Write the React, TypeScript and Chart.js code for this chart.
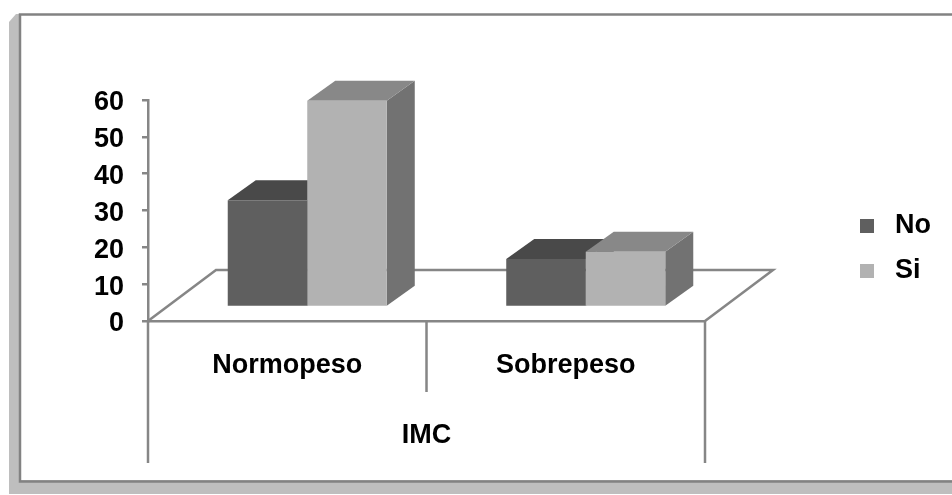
import React, { useEffect, useRef } from "react";
import { Chart, registerables } from "chart.js";

Chart.register(...registerables);

const categories = ["Normopeso", "Sobrepeso"];
const seriesNo = [29, 13];
const seriesSi = [56, 15];
const axisTitle = "IMC";

const FONT = "'Liberation Sans', Arial, sans-serif";
const LINE = "#868686";
const LW = 2.5;
const DX = 68, DY = 51; // floor depth
const BDX = 28, BDY = 20; // bar depth
const SHIFT_X = (DX - BDX) / 2, SHIFT_Y = 14;
const faces = [
  { front: "#5f5f5f", top: "#494949", side: "#494949" },
  { front: "#b2b2b2", top: "#888888", side: "#727272" },
];

function poly(ctx: CanvasRenderingContext2D, pts: number[][], fill: string) {
  ctx.beginPath();
  pts.forEach((p, i) => (i ? ctx.lineTo(p[0], p[1]) : ctx.moveTo(p[0], p[1])));
  ctx.closePath();
  ctx.fillStyle = fill;
  ctx.fill();
}

function swatch(color: string) {
  const c = document.createElement("canvas");
  c.width = 14;
  c.height = 14;
  const g = c.getContext("2d")!;
  g.fillStyle = color;
  g.fillRect(0, 0, 14, 14);
  return c;
}

const frame3d = {
  id: "frame3d",
  afterLayout(chart: any) {
    const l = chart.legend;
    const w = l.right - l.left;
    l.left = 860 + 7 - 14.5 - 18;
    l.right = l.left + w;
    l.top -= 49;
    l.bottom -= 49;
  },
  beforeDraw(chart: any) {
    const ctx: CanvasRenderingContext2D = chart.ctx;
    ctx.save();
    ctx.fillStyle = "#ffffff";
    ctx.fillRect(0, 0, 952, 495);
    // shadow
    ctx.fillStyle = "#bebebe";
    ctx.beginPath();
    ctx.moveTo(19, 14);
    ctx.lineTo(16, 14);
    ctx.lineTo(9, 22);
    ctx.lineTo(9, 494);
    ctx.lineTo(952, 494);
    ctx.lineTo(952, 480);
    ctx.lineTo(19, 480);
    ctx.closePath();
    ctx.fill();
    // frame
    ctx.strokeStyle = "#828282";
    ctx.lineWidth = 2.5;
    ctx.beginPath();
    ctx.moveTo(953, 14.5);
    ctx.lineTo(20, 14.5);
    ctx.lineTo(20, 481.5);
    ctx.lineTo(953, 481.5);
    ctx.stroke();
    ctx.restore();
  },
  beforeDatasetsDraw(chart: any) {
    const ctx: CanvasRenderingContext2D = chart.ctx;
    const { left, right, bottom } = chart.chartArea;
    ctx.save();
    ctx.strokeStyle = LINE;
    ctx.lineWidth = LW;
    // floor
    ctx.beginPath();
    ctx.moveTo(left, bottom);
    ctx.lineTo(left + DX, bottom - DY);
    ctx.lineTo(right + DX, bottom - DY);
    ctx.lineTo(right, bottom);
    ctx.stroke();
    // category separators
    const scaleBottom = 463;
    const mid = (left + right) / 2;
    ctx.beginPath();
    ctx.moveTo(left, bottom);
    ctx.lineTo(left, scaleBottom);
    ctx.moveTo(right, bottom);
    ctx.lineTo(right, scaleBottom);
    ctx.moveTo(mid, bottom);
    ctx.lineTo(mid, 392);
    ctx.stroke();
    // bar faces, then the library's fronts over them
    ctx.translate(SHIFT_X, -SHIFT_Y);
    chart.data.datasets.forEach((_: any, i: number) => {
      chart.getDatasetMeta(i).data.forEach((b: any) => {
        const x0 = b.x - b.width / 2;
        const x1 = b.x + b.width / 2;
        poly(ctx, [[x1, b.y], [x1 + BDX, b.y - BDY], [x1 + BDX, b.base - BDY], [x1, b.base]], faces[i].side);
        poly(ctx, [[x0, b.y], [x0 + BDX, b.y - BDY], [x1 + BDX, b.y - BDY], [x1, b.y]], faces[i].top);
      });
    });
  },
  afterDatasetsDraw(chart: any) {
    chart.ctx.restore();
  },
};

export default function App() {
  const ref = useRef<HTMLCanvasElement>(null);
  useEffect(() => {
    const chart = new Chart(ref.current!, {
      type: "bar",
      data: {
        labels: categories,
        datasets: [
          { label: "No", data: seriesNo, backgroundColor: faces[0].front, borderWidth: 0, categoryPercentage: 0.571, barPercentage: 1 },
          { label: "Si", data: seriesSi, backgroundColor: faces[1].front, borderWidth: 0, categoryPercentage: 0.571, barPercentage: 1 },
        ],
      },
      plugins: [frame3d],
      options: {
        animation: false,
        responsive: false,
        events: [],
        layout: { padding: { left: 0, top: 100, right: 140.5, bottom: 0 } },
        plugins: {
          tooltip: { enabled: false },
          title: { display: false },
          legend: {
            display: true,
            position: "right",
            labels: {
              usePointStyle: true,
              pointStyleWidth: 29,
              padding: 18,
              color: "#000000",
              font: { family: FONT, size: 27, weight: "bold" },
              generateLabels: (chart: any) =>
                chart.data.datasets.map((d: any, i: number) => ({
                  text: d.label,
                  fillStyle: d.backgroundColor,
                  strokeStyle: d.backgroundColor,
                  lineWidth: 0,
                  pointStyle: swatch(d.backgroundColor),
                  datasetIndex: i,
                  hidden: false,
                })),
            },
          },
        },
        scales: {
          x: {
            afterFit: (s: any) => { s.height = 174; },
            grid: { display: false, drawTicks: false },
            border: { display: true, color: LINE, width: LW },
            ticks: { color: "#000000", padding: 28, maxRotation: 0, font: { family: FONT, size: 27, weight: "bold" } },
            title: {
              display: true,
              text: axisTitle,
              color: "#000000",
              padding: { top: 0, bottom: 43 },
              font: { family: FONT, size: 27, weight: "bold" },
            },
          },
          y: {
            min: 0,
            max: 60,
            afterFit: (s: any) => { s.width = 148; },
            grid: { drawOnChartArea: false, drawTicks: true, tickLength: 6, color: LINE, lineWidth: LW },
            border: { display: true, color: LINE, width: LW },
            ticks: { stepSize: 10, color: "#000000", padding: 18, labelOffset: 3, font: { family: FONT, size: 27, weight: "bold" } },
          },
        },
      },
    } as any);
    return () => chart.destroy();
  }, []);
  return (
    <div style={{ position: "absolute", left: 0, top: 0, width: 952, height: 495 }}>
      <canvas ref={ref} width={952} height={495} style={{ display: "block" }} />
    </div>
  );
}
